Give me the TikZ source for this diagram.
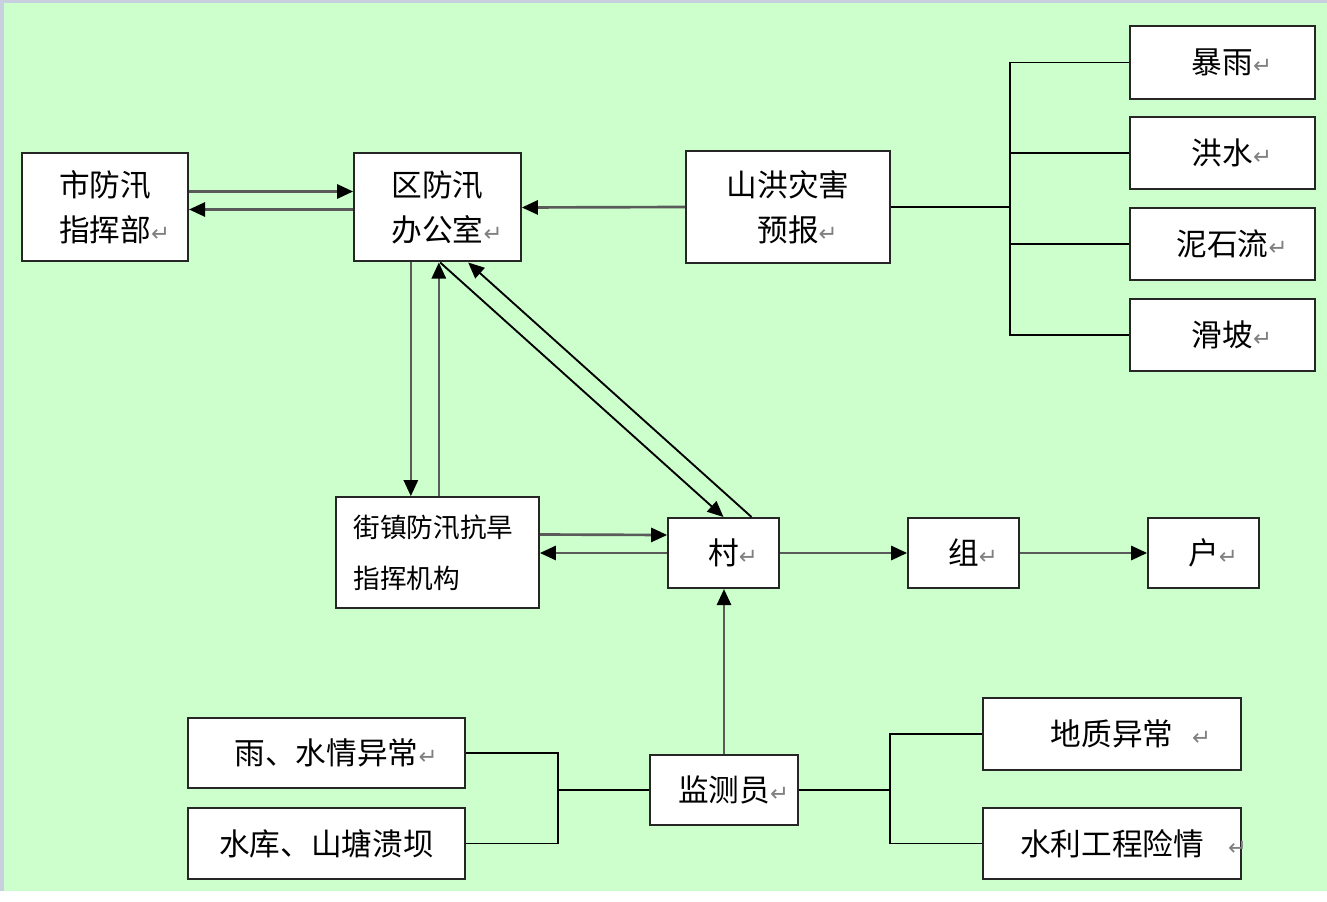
\documentclass[tikz,border=0pt]{standalone}
\usepackage{fontspec}
\usetikzlibrary{arrows.meta}
\newfontfamily\cjk{Noto Sans CJK SC}
\newfontfamily\retfont{DejaVu Sans}
\definecolor{bggreen}{RGB}{204,255,204}
\definecolor{edgegray}{RGB}{200,208,224}
\definecolor{linegray}{RGB}{90,90,90}
\newcommand{\ret}[1][0pt]{\rlap{\hspace{#1}\retfont\fontsize{17}{17}\selectfont\color{gray}↵}}

\begin{document}
\begin{tikzpicture}[
    x=0.75pt, y=-0.75pt,
    every node/.style={font=\cjk\fontsize{23}{34}\selectfont},
    box/.style={draw=black!85, line width=1.5pt, fill=white, inner sep=0pt, align=center},
    link/.style={draw=linegray, line width=2pt, -{Triangle[length=12pt, width=10.5pt, color=black, fill=black]}},
    diag/.style={draw=black, line width=1.4pt, -{Triangle[length=12pt, width=10.5pt, color=black, fill=black]}},
    conn/.style={draw=black, line width=1.4pt}
]
\useasboundingbox (0,0) rectangle (1327,902);
\fill[white] (0,0) rectangle (1327,902);
\fill[edgegray] (0,0) rectangle (1327,891);
\fill[bggreen] (4,3) rectangle (1327,891);

% 上层节点
\node[box, minimum width=124.5pt, minimum height=81pt] (shi) at (105,207.5) {市防汛\\指挥部\ret};
\node[box, minimum width=125pt, minimum height=81pt] (qu) at (437.5,207.5) {区防汛\\办公室\ret};
\node[box, minimum width=153pt, minimum height=84pt] (yubao) at (788,207) {山洪灾害\\预报\ret};

% 右侧灾害类型
\node[box, minimum width=139pt, minimum height=55pt] (baoyu) at (1222.5,62.5) {暴雨\ret};
\node[box, minimum width=139pt, minimum height=54pt] (hongshui) at (1222.5,153) {洪水\ret};
\node[box, minimum width=139pt, minimum height=54pt] (nishiliu) at (1222.5,244) {泥石流\ret};
\node[box, minimum width=139pt, minimum height=54pt] (huapo) at (1222.5,335) {滑坡\ret};

% 中层节点
\node[box, minimum width=152pt, minimum height=83pt, align=left, text width=126pt,
      font=\cjk\fontsize{20}{38}\selectfont] (jiezhen) at (437.5,552.5) {街镇防汛抗旱\\指挥机构};
\node[box, minimum width=83pt, minimum height=52.5pt] (cun) at (723.5,553) {村\ret};
\node[box, minimum width=83pt, minimum height=52.5pt] (zu) at (963.5,553) {组\ret};
\node[box, minimum width=83pt, minimum height=52.5pt] (hu) at (1203.5,553) {户\ret};

% 下层节点
\node[box, minimum width=111pt, minimum height=52.5pt] (jianceyuan) at (724,790) {监测员\ret};
\node[box, minimum width=208pt, minimum height=52.5pt] (yuqing) at (326.5,753) {雨、水情异常\ret};
\node[box, minimum width=208pt, minimum height=53pt] (kuiba) at (326.5,843.5) {水库、山塘溃坝};
\node[box, minimum width=193.5pt, minimum height=54pt] (dizhi) at (1112,734) {地质异常\ret[14pt]};
\node[box, minimum width=193.5pt, minimum height=53pt] (shuili) at (1112,843.5) {水利工程险情\ret[18pt]};

% 连接点
\coordinate (tjoin) at (1010,207);
\coordinate (ljoin) at (558,790);
\coordinate (rjoin) at (890,790);

% 市 <-> 区
\draw[link] ([yshift=12pt]shi.east) -- ([yshift=12pt]qu.west);
\draw[link] ([yshift=-1.5pt]qu.west) -- ([yshift=-1.5pt]shi.east);
% 预报 -> 区
\draw[link] (yubao.west) -- (qu.east);
% 区 <-> 街镇
\draw[link] ([xshift=-20pt]qu.south) -- ([xshift=-20pt]jiezhen.north);
\draw[link] ([xshift=1pt]jiezhen.north) -- ([xshift=1pt]qu.south);
% 区 <-> 村
\draw[diag] ([xshift=2pt]qu.south) -- (cun.north);
\draw[diag] ([xshift=21pt]cun.north) -- ([xshift=23pt]qu.south);
% 街镇 <-> 村
\draw[link] ([yshift=13.5pt]jiezhen.east) -- ([yshift=13.5pt]cun.west);
\draw[link] (cun.west) -- (cun.west -| jiezhen.east);
% 村 -> 组 -> 户
\draw[link] (cun.east) -- (zu.west);
\draw[link] (zu.east) -- (hu.west);
% 监测员 -> 村
\draw[link] (jianceyuan.north) -- (jianceyuan.north |- cun.south);

% 灾害类型括线
\draw[conn] (yubao.east) -- (tjoin);
\draw[conn] (tjoin) |- (baoyu.west);
\draw[conn] (tjoin) |- (hongshui.west);
\draw[conn] (tjoin) |- (nishiliu.west);
\draw[conn] (tjoin) |- (huapo.west);
% 监测员左右括线
\draw[conn] (yuqing.east) -| (ljoin);
\draw[conn] (kuiba.east) -| (ljoin);
\draw[conn] (ljoin) -- (jianceyuan.west);
\draw[conn] (jianceyuan.east) -- (rjoin);
\draw[conn] (rjoin) |- (dizhi.west);
\draw[conn] (rjoin) |- (shuili.west);

\end{tikzpicture}
\end{document}
